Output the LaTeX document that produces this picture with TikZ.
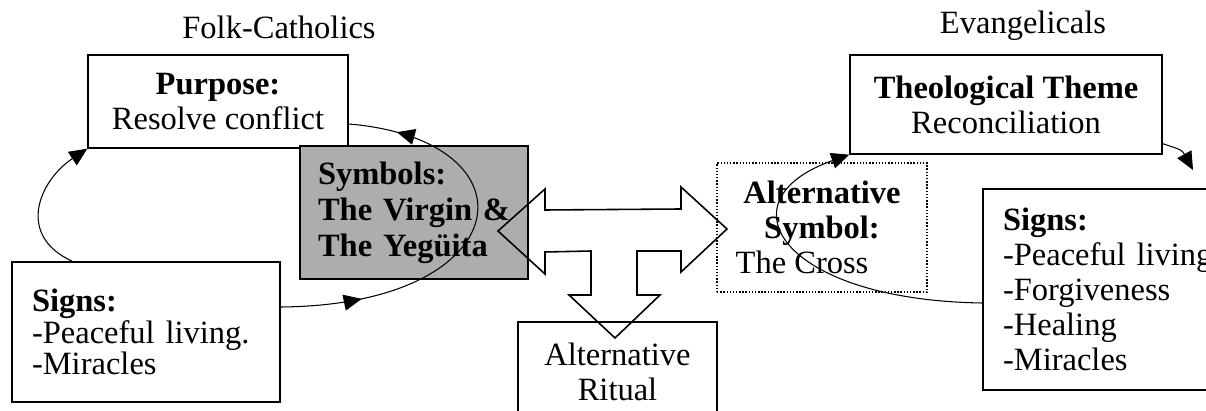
\documentclass[tikz,border=0pt]{standalone}
\usepackage{fontspec}
\setmainfont{Liberation Serif}
\usetikzlibrary{arrows.meta,decorations.markings}
\begin{document}
\begin{tikzpicture}[x=0.02cm, y=-0.02cm, >={Triangle[length=3.6mm,width=3.2mm]},
    font=\fontsize{18.5}{20}\selectfont,
    box/.style={draw, line width=0.8pt, inner sep=0pt},
    dotbox/.style={box, densely dotted},
    listbox/.style={box, align=left, inner xsep=0.4cm},
    link/.style={line width=0.6pt},
    twoarrows/.style={postaction={decorate}, decoration={markings,
        mark=at position 0.2 with {\arrow{>}},
        mark=at position 0.88 with {\arrow{>}}}}]
\useasboundingbox (0,0) rectangle (1206,411);
\clip (0,0) rectangle (1206,411);
% headings
\node at (279,27) (folk) {Folk-Catholics};
\node at (1023,26) (evang) {Evangelicals};
% folk-catholic side
\node[box, align=center, minimum width=5.2cm, minimum height=1.86cm] at (218,101.5) (purpose)
    {\textbf{Purpose:}\\Resolve conflict};
\node[box, fill=black!32, align=left, inner xsep=0.36cm, text width=3.84cm, minimum height=2.66cm,
    font=\fontsize{18.5}{20.5}\selectfont\bfseries] at (414,212.5) (symbols)
    {\mbox{Symbols:}\\\mbox{The Virgin \&}\\\mbox{The Yegüita}};
\node[listbox, text width=4.56cm, minimum height=2.8cm, font=\fontsize{18.5}{18}\selectfont] at (146,332) (lsigns)
    {\textbf{Signs:}\\-Peaceful living.\\-Miracles};
% middle
\node[box, align=center, minimum width=3.98cm, minimum height=2cm] at (617.5,372) (ritual)
    {Alternative\\Ritual};
\node[dotbox, align=center, minimum width=4.2cm, minimum height=2.58cm] at (822,227.5) (altsym)
    {\textbf{Alternative}\\\textbf{Symbol:}\\The Cross\hspace*{0.8cm}};
% evangelical side
\node[box, align=center, minimum width=6.24cm, minimum height=1.98cm] at (1006,104.5) (theo)
    {\textbf{Theological Theme}\\Reconciliation};
\node[listbox, text width=4.8cm, minimum height=4.02cm] at (1123,289.5) (rsigns)
    {\textbf{Signs:}\\-Peaceful living\\-Forgiveness\\-Healing\\-Miracles};
% block arrow
\draw[line width=0.9pt] (498,231)--(545,189)--(545,210)--(681,209)--(681,187)--(727,229)
    --(681,272)--(681,251)--(637,251)--(637,295)--(660,295)--(615,338)--(569,295)
    --(591,295)--(591,251)--(545,252)--(545,274)--cycle;
% cycles
\draw[link,->] ([xshift=1.22cm]lsigns.north west) .. controls (15,235) and (40,180) .. (purpose.south west);
\draw[link,twoarrows] ([yshift=0.5cm]lsigns.east) .. controls (520,305) and (540,140) .. ([yshift=-0.45cm]purpose.east);
\draw[link,->] ([yshift=-0.27cm]rsigns.west) .. controls (780,300) and (720,200) .. (theo.south west);
\coordinate (theoout) at (1193,170);
\draw[link,->] ([yshift=0.22cm]theo.south east) .. controls (1182,150) .. (theoout);
\end{tikzpicture}
\end{document}
